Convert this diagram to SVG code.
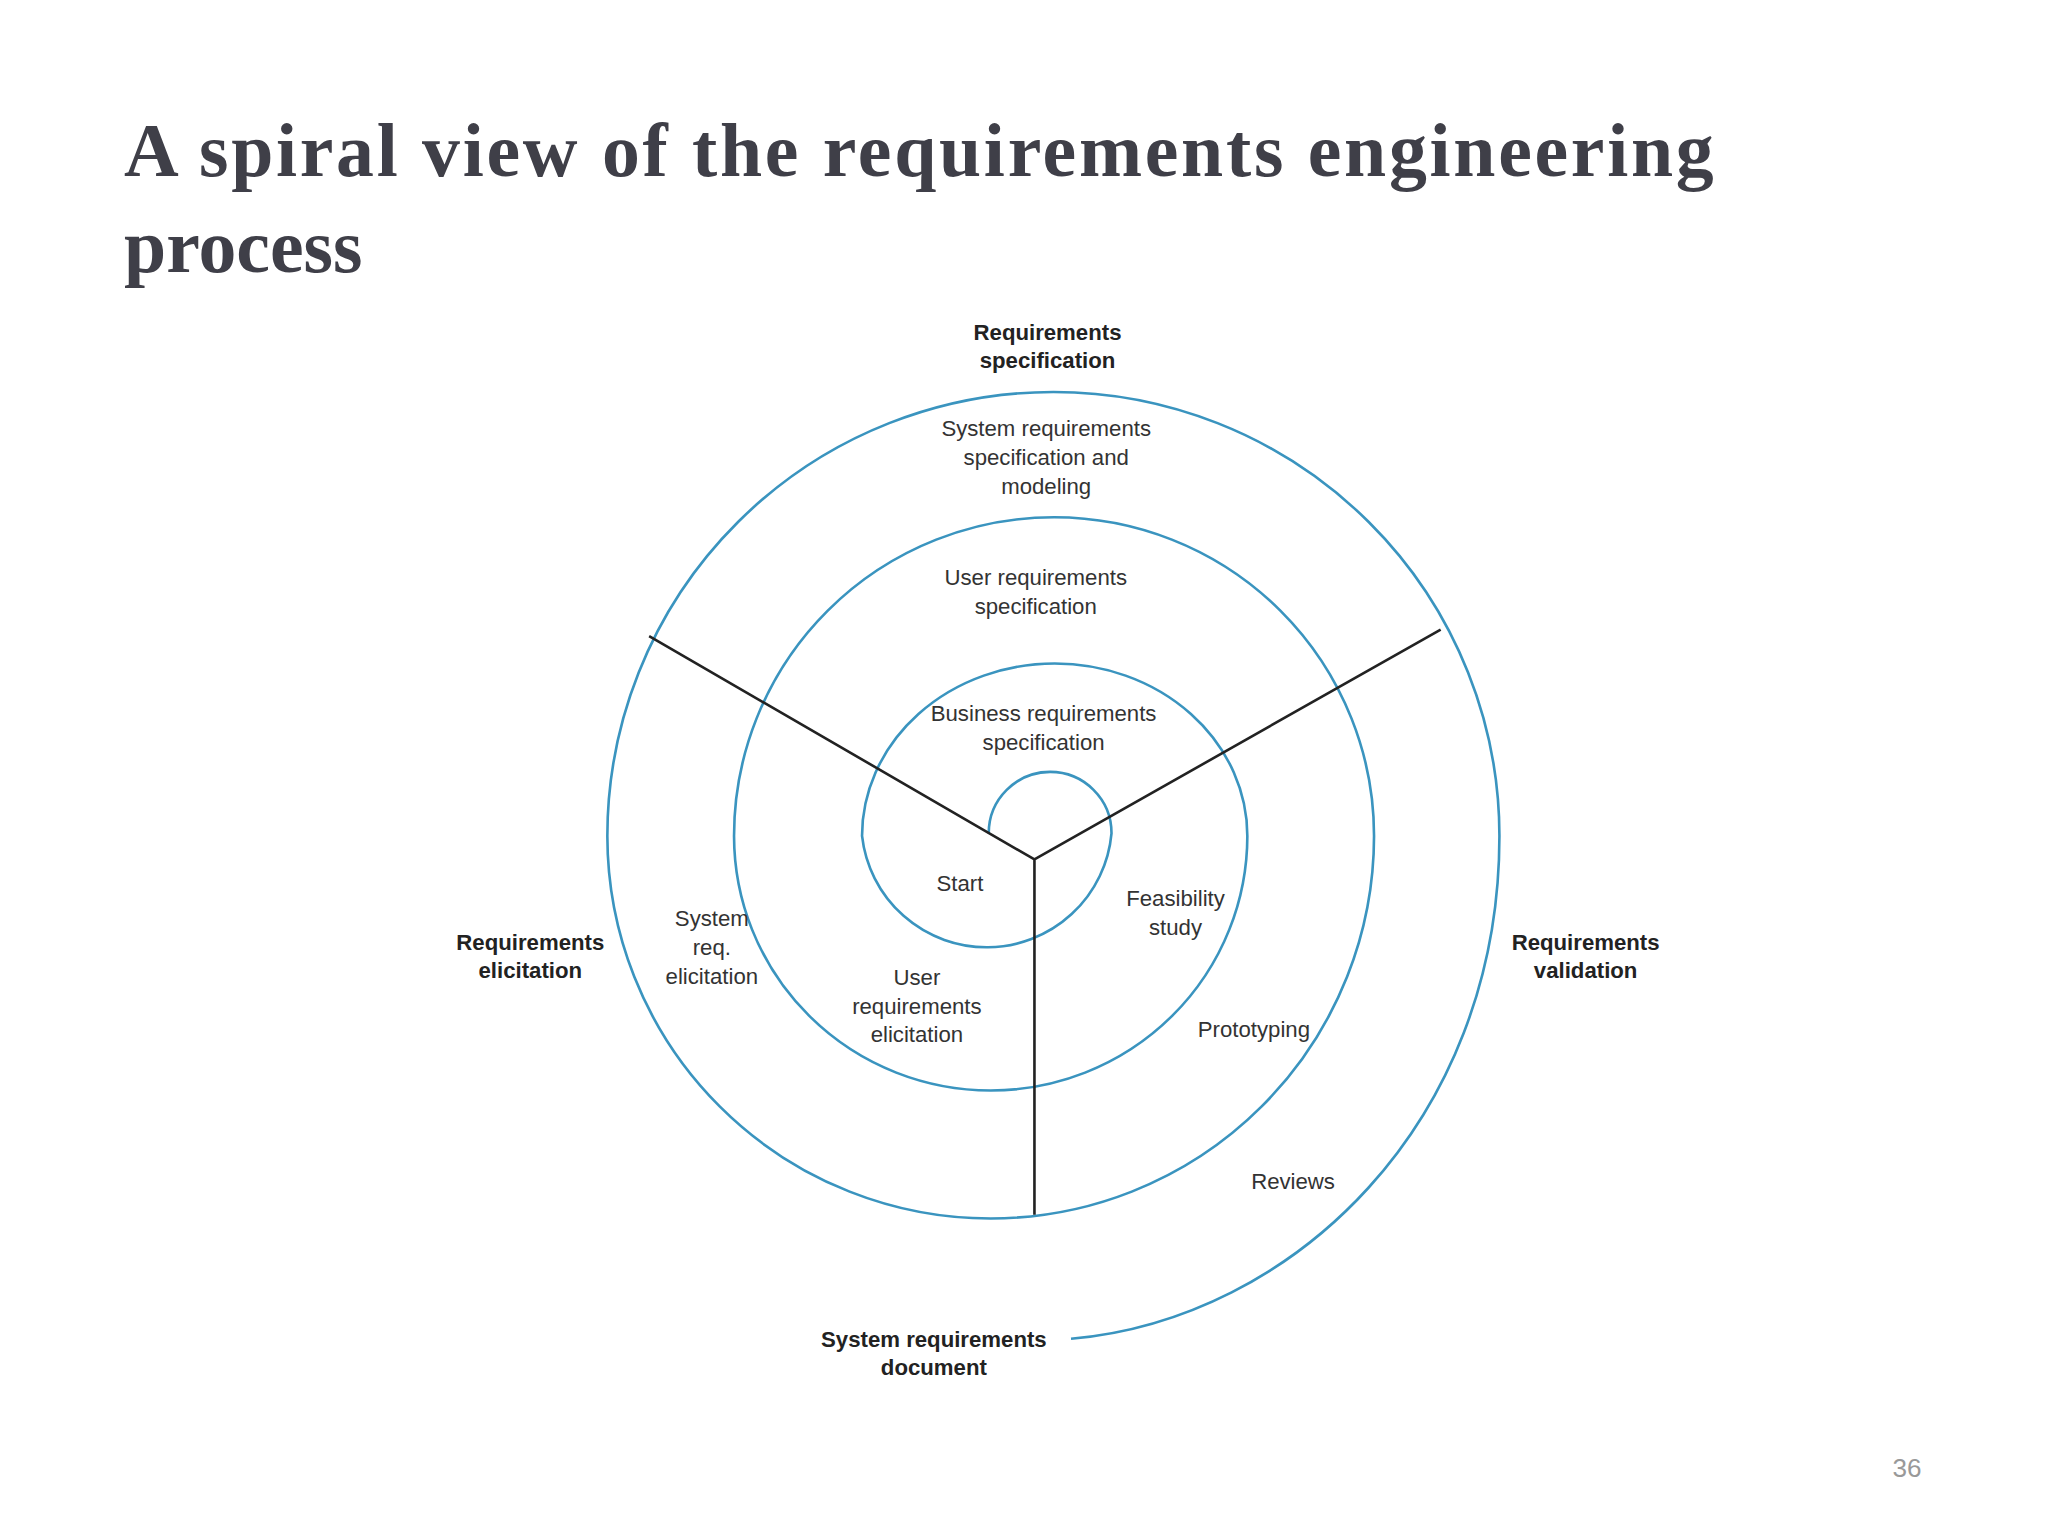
<svg xmlns="http://www.w3.org/2000/svg" width="2048" height="1536" viewBox="0 0 2048 1536">
<style>
.t{font-family:"Liberation Sans","Open Sans",sans-serif;font-size:17px;fill:#333;text-anchor:middle}
.b{font-weight:bold;fill:#222}
.title{font-family:"Liberation Serif",serif;font-weight:bold;font-size:58px;fill:#3f3f48}
</style>
<rect width="2048" height="1536" fill="#fff"/>
<g transform="scale(1.30612)">
<text class="title" x="95" y="135" textLength="1217" lengthAdjust="spacing">A spiral view of the requirements engineering</text>
<text class="title" x="95" y="208">process</text>
<text x="1460" y="1131" style="font-family:'Liberation Sans',sans-serif;font-size:20px;fill:#999;text-anchor:middle">36</text>
<g id="connectors" fill="none">
<path id="spiral" d="M757,638 A47,47 0 0 1 851,638 A96,96 0 0 1 660,640 A147.5,132 0 0 1 955,640 A196.5,195 0 0 1 562,640 A245,244 0 0 1 1052,640 A293.5,293 0 0 1 465,640 A341.5,340 0 0 1 1148,640 C1148,860 990,1010 820,1025" stroke="#3a94bf" stroke-width="2"/>
<path d="M792,658 L497,487 M792,658 L1103,482 M792,658 L792,930" stroke="#222" stroke-width="2"/>
</g>
<g id="n-spec"><text class="t b" x="802" y="260">Requirements</text><text class="t b" x="802" y="282">specification</text></g>
<g id="n-elic"><text class="t b" x="406" y="727">Requirements</text><text class="t b" x="406" y="749">elicitation</text></g>
<g id="n-val"><text class="t b" x="1214" y="727">Requirements</text><text class="t b" x="1214" y="749">validation</text></g>
<g id="n-doc"><text class="t b" x="715" y="1031">System requirements</text><text class="t b" x="715" y="1053">document</text></g>
<g id="n-srs"><text class="t" x="801" y="334">System requirements</text><text class="t" x="801" y="356">specification and</text><text class="t" x="801" y="378">modeling</text></g>
<g id="n-urs"><text class="t" x="793" y="448">User requirements</text><text class="t" x="793" y="470">specification</text></g>
<g id="n-brs"><text class="t" x="799" y="552">Business requirements</text><text class="t" x="799" y="574">specification</text></g>
<g id="n-start"><text class="t" x="735" y="682">Start</text></g>
<g id="n-feas"><text class="t" x="900" y="694">Feasibility</text><text class="t" x="900" y="716">study</text></g>
<g id="n-sre"><text class="t" x="545" y="709">System</text><text class="t" x="545" y="731">req.</text><text class="t" x="545" y="753">elicitation</text></g>
<g id="n-ure"><text class="t" x="702" y="754">User</text><text class="t" x="702" y="776">requirements</text><text class="t" x="702" y="798">elicitation</text></g>
<g id="n-proto"><text class="t" x="960" y="794">Prototyping</text></g>
<g id="n-rev"><text class="t" x="990" y="910">Reviews</text></g>
</g>
</svg>
